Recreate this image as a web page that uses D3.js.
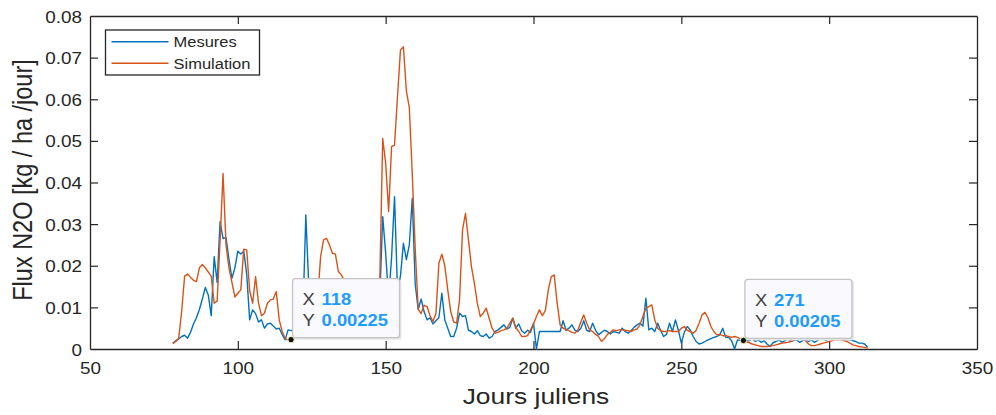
<!DOCTYPE html>
<html>
<head>
  <meta charset="utf-8">
  <script src="https://cdn.jsdelivr.net/npm/d3@7"></script>
  <style>
    body { margin: 0; background: #fff; }
    svg { font-family: "Liberation Sans", Arial, sans-serif; }
  </style>
</head>
<body>
<script>
  // ---- data ----
  var firstDay = 78;

  // Mesures, one value per day from day 78 to day 313
  var mesures = [
    0.0014, 0.002, 0.0024, 0.003, 0.0033, 0.0026, 0.004, 0.006, 0.0075, 0.0095,      // 78
    0.012, 0.0148, 0.013, 0.008, 0.0222, 0.016, 0.0306, 0.0265, 0.0268, 0.0215,      // 88
    0.017, 0.0195, 0.0235, 0.0228, 0.0235, 0.018, 0.007, 0.0094, 0.0085, 0.0065,     // 98
    0.007, 0.005, 0.006, 0.0062, 0.0055, 0.0048, 0.005, 0.0035, 0.0022, 0.0046,      // 108
    0.0044, 0.0046, 0.0045, 0.005, 0.008, 0.0322, 0.015, 0.006, 0.005, 0.007,        // 118
    0.006, 0.004, 0.005, 0.006, 0.005, 0.007, 0.006, 0.005, 0.004, 0.006,            // 128
    0.005, 0.004, 0.005, 0.006, 0.005, 0.004, 0.006, 0.007, 0.008, 0.01,             // 138
    0.012, 0.0318, 0.023, 0.012, 0.022, 0.0366, 0.014, 0.0175, 0.0254, 0.0215,       // 148
    0.025, 0.0362, 0.0155, 0.0095, 0.012, 0.009, 0.007, 0.0075, 0.006, 0.0068,       // 158
    0.0075, 0.0134, 0.007, 0.005, 0.003, 0.003, 0.005, 0.0086, 0.0078, 0.008,        // 168
    0.0045, 0.0042, 0.0036, 0.0044, 0.0032, 0.003, 0.0036, 0.0026, 0.003, 0.0042,    // 178
    0.0046, 0.0052, 0.0058, 0.0048, 0.0052, 0.0074, 0.005, 0.006, 0.0044, 0.0038,    // 188
    0.0045, 0.004, 0.0062, 0, 0.0042, 0.0042, 0.0042, 0.0042, 0.0042, 0.0042,        // 198
    0.0042, 0.0042, 0.0068, 0.0045, 0.005, 0.0058, 0.0045, 0.0042, 0.005, 0.0068,    // 208
    0.0045, 0.0042, 0.0062, 0.0045, 0.0034, 0.004, 0.0045, 0.0042, 0.0036, 0.0042,   // 218
    0.004, 0.0038, 0.005, 0.0042, 0.0038, 0.0044, 0.0052, 0.0058, 0.0062, 0.0055,    // 228
    0.0122, 0.0046, 0.005, 0.0042, 0.0062, 0.0045, 0.003, 0.0035, 0.0062, 0.0042,    // 238
    0.007, 0.0045, 0.0014, 0.004, 0.0054, 0.0046, 0.003, 0.0018, 0.0012, 0.0014,     // 248
    0.0018, 0.0022, 0.0025, 0.0028, 0.003, 0.0034, 0.005, 0.0028, 0.0028, 0.002,     // 258
    0, 0.0022, 0.002, 0.0025, 0.0022, 0.002, 0.0024, 0.0018, 0.0022, 0.0016,         // 268
    0.002, 0.0012, 0.0006, 0.0015, 0.0018, 0.0022, 0.0016, 0.002, 0.0026, 0.0018,    // 278
    0.002, 0.0022, 0.0016, 0.002, 0.0024, 0.0018, 0.0022, 0.0016, 0.002, 0.0026,     // 288
    0.0024, 0.002, 0.0042, 0.003, 0.0025, 0.0025, 0.0026, 0.0024, 0.0022, 0.0022,    // 298
    0.002, 0.0018, 0.0014, 0.0014, 0.0012, 0.0004                                    // 308
  ];

  // Simulation, same days
  var simulation = [
    0.0013, 0.0018, 0.0026, 0.009, 0.0175, 0.018, 0.0172, 0.0165, 0.0162, 0.0195,   // 78
    0.0203, 0.0195, 0.0185, 0.0175, 0.011, 0.0115, 0.026, 0.0422, 0.025, 0.0195,     // 88
    0.016, 0.0125, 0.0134, 0.0142, 0.024, 0.0238, 0.014, 0.011, 0.0174, 0.011,       // 98
    0.008, 0.0086, 0.011, 0.0118, 0.012, 0.0138, 0.007, 0.0042, 0.0025, 0.0022,      // 108
    0.00225, 0.003, 0.0035, 0.005, 0.007, 0.008, 0.007, 0.006, 0.008, 0.012,         // 118
    0.0222, 0.0262, 0.0266, 0.025, 0.023, 0.0228, 0.0186, 0.0178, 0.0165, 0.016,     // 128
    0.014, 0.013, 0.012, 0.011, 0.0105, 0.01, 0.0095, 0.009, 0.0095, 0.012,          // 138
    0.016, 0.0506, 0.0446, 0.033, 0.0486, 0.049, 0.0606, 0.0718, 0.0726, 0.062,      // 148
    0.058, 0.042, 0.024, 0.0095, 0.0085, 0.0105, 0.0102, 0.008, 0.0066, 0.0085,      // 158
    0.0206, 0.0228, 0.02, 0.0142, 0.009, 0.0065, 0.0062, 0.012, 0.0286, 0.0326,      // 168
    0.0262, 0.0198, 0.0158, 0.011, 0.0078, 0.0086, 0.0098, 0.0074, 0.005, 0.0038,    // 178
    0.004, 0.0044, 0.0046, 0.005, 0.0062, 0.0074, 0.0052, 0.0042, 0.003, 0.003,      // 188
    0.0032, 0.0046, 0.006, 0.0078, 0.0094, 0.008, 0.0092, 0.0142, 0.0174, 0.0178,    // 198
    0.011, 0.0058, 0.005, 0.0046, 0.0044, 0.004, 0.0038, 0.0045, 0.0065, 0.0082,     // 208
    0.0062, 0.0046, 0.0042, 0.0035, 0.003, 0.0018, 0.0025, 0.0035, 0.004, 0.0046,    // 218
    0.0044, 0.0046, 0.0046, 0.0045, 0.0044, 0.0042, 0.0046, 0.0048, 0.0058, 0.0078,  // 228
    0.0098, 0.0102, 0.0106, 0.007, 0.005, 0.0044, 0.0042, 0.0042, 0.0044, 0.0042,    // 238
    0.0042, 0.0042, 0.005, 0.0054, 0.0045, 0.0042, 0.0038, 0.0045, 0.0062, 0.0082,   // 248
    0.0088, 0.0075, 0.0054, 0.0042, 0.0034, 0.0035, 0.0032, 0.0032, 0.003, 0.0028,   // 258
    0.003, 0.0028, 0.0024, 0.00205, 0.0018, 0.0015, 0.0012, 0.001, 0.0008, 0.0006,   // 268
    0.0006, 0.0006, 0.0007, 0.0008, 0.001, 0.0012, 0.0014, 0.0015, 0.0016, 0.0018,   // 278
    0.0022, 0.0024, 0.0026, 0.0026, 0.002, 0.0012, 0.0008, 0.0008, 0.001, 0.0012,    // 288
    0.0014, 0.0016, 0.0018, 0.002, 0.0022, 0.0022, 0.0022, 0.002, 0.0018, 0.0014,    // 298
    0.001, 0.0008, 0.0006, 0.0005, 0.0004, 0.0002                                    // 308
  ];

  var seriesNames = ["Mesures", "Simulation"];
  var seriesColors = ["#0072BD", "#D95319"];

  var xTicks = [50, 100, 150, 200, 250, 300, 350];
  var xTickLabels = ["50", "100", "150", "200", "250", "300", "350"];
  var yTicks = [0, 0.01, 0.02, 0.03, 0.04, 0.05, 0.06, 0.07, 0.08];
  var yTickLabels = ["0", "0.01", "0.02", "0.03", "0.04", "0.05", "0.06", "0.07", "0.08"];

  // data tips shown on the figure
  var tipX = [118, 271];
  var tipY = [0.00225, 0.00205];

  // ---- layout ----
  var width = 996, height = 415;
  var plotL = 90, plotR = 977, plotT = 16, plotB = 349;
  var ink = "#262626";

  var svg = d3.select("body").append("svg")
      .attr("width", width)
      .attr("height", height);

  var x = d3.scaleLinear().domain([50, 350]).range([plotL, plotR]);
  var y = d3.scaleLinear().domain([0, 0.08]).range([plotB, plotT]);

  function series(values) {
    return values.map(function (v, i) { return { day: firstDay + i, v: v }; });
  }
  var allSeries = [series(mesures), series(simulation)];

  /*
    Axes: MATLAB style box, ticks inside on all four sides
  */
  var gx = svg.append("g")
      .attr("transform", "translate(0," + plotB + ")")
      .call(d3.axisBottom(x).tickValues(xTicks).tickSize(-8).tickSizeOuter(0)
            .tickPadding(14).tickFormat(function (d, i) { return xTickLabels[i]; }));
  var gxt = svg.append("g")
      .attr("transform", "translate(0," + plotT + ")")
      .call(d3.axisTop(x).tickValues(xTicks).tickSize(-8).tickSizeOuter(0).tickFormat(""));
  var gy = svg.append("g")
      .attr("transform", "translate(" + plotL + ",0)")
      .call(d3.axisLeft(y).tickValues(yTicks).tickSize(-8).tickSizeOuter(0)
            .tickFormat(function (d, i) { return yTickLabels[i]; }));
  var gyr = svg.append("g")
      .attr("transform", "translate(" + plotR + ",0)")
      .call(d3.axisRight(y).tickValues(yTicks).tickSize(-8).tickSizeOuter(0).tickFormat(""));

  [gx, gxt, gy, gyr].forEach(function (g) {
    g.attr("font-family", null).attr("font-size", null);
    g.selectAll("path.domain").attr("stroke", ink).attr("stroke-width", 1.3);
    g.selectAll(".tick line").attr("stroke", ink).attr("stroke-width", 1.2);
  });
  // edge ticks sit on the frame, hide them
  gx.selectAll(".tick line").filter(function (d) { return d === 50 || d === 350; }).remove();
  gxt.selectAll(".tick line").filter(function (d) { return d === 50 || d === 350; }).remove();
  gy.selectAll(".tick line").filter(function (d) { return d === 0 || d === 0.08; }).remove();
  gyr.selectAll(".tick line").filter(function (d) { return d === 0 || d === 0.08; }).remove();

  gx.selectAll("text")
      .attr("fill", ink)
      .style("font-size", "16px")
      .attr("transform", "scale(1.18,1)");
  gy.selectAll("text")
      .attr("fill", ink)
      .style("font-size", "16px")
      .attr("x", -8 / 1.18)
      .attr("dy", "0.38em")
      .attr("transform", "scale(1.18,1)");

  /*
    Axis titles
  */
  svg.append("text")
      .attr("transform", "translate(536,404) scale(1.2,1)")
      .attr("text-anchor", "middle")
      .attr("fill", ink)
      .style("font-size", "22px")
      .text("Jours juliens");

  svg.append("text")
      .attr("transform", "translate(31.5,180) scale(1.15,1) rotate(-90)")
      .attr("text-anchor", "middle")
      .attr("fill", ink)
      .style("font-size", "23.5px")
      .text("Flux N2O [kg / ha /jour]");

  /*
    The two lines
  */
  var line = d3.line()
      .x(function (d) { return x(d.day); })
      .y(function (d) { return y(d.v); });

  svg.append("g").selectAll("path.serie")
    .data(allSeries)
    .enter()
    .append("path")
      .attr("class", "serie")
      .attr("fill", "none")
      .attr("stroke", function (d, i) { return seriesColors[i]; })
      .attr("stroke-width", 1.4)
      .attr("stroke-linejoin", "round")
      .attr("d", line);

  /*
    Legend
  */
  var leg = svg.append("g").attr("transform", "translate(105.5,30)");
  leg.append("rect")
      .attr("width", 154)
      .attr("height", 45)
      .attr("fill", "#fff")
      .attr("stroke", ink)
      .attr("stroke-width", 1.3);
  seriesNames.forEach(function (name, i) {
    var ly = 11.7 + i * 21.6;
    leg.append("line")
        .attr("x1", 6).attr("x2", 63)
        .attr("y1", ly).attr("y2", ly)
        .attr("stroke", seriesColors[i])
        .attr("stroke-width", 1.4);
    leg.append("text")
        .attr("transform", "translate(68," + (ly + 5.5) + ") scale(1.1,1)")
        .attr("fill", ink)
        .style("font-size", "15px")
        .text(name);
  });

  /*
    Data tips
  */
  tipX.forEach(function (tx, i) {
    var px = x(tx), py = y(tipY[i]);
    var tip = svg.append("g");
    tip.append("rect")
        .attr("x", px + 2.5).attr("y", py - 60)
        .attr("width", 108).attr("height", 60)
        .attr("rx", 3)
        .attr("fill", "#e6e6e6");
    tip.append("rect")
        .attr("x", px + 1.5).attr("y", py - 61)
        .attr("width", 107).attr("height", 59)
        .attr("rx", 3)
        .attr("fill", "#f9f9fe")
        .attr("stroke", "#c4c4c4")
        .attr("stroke-width", 1.3);
    [["X", String(tx), 34.5], ["Y", String(tipY[i]), 13.5]].forEach(function (row) {
      tip.append("text")
          .attr("transform", "translate(" + (px + 11.5) + "," + (py - row[2]) + ") scale(1.15,1)")
          .attr("fill", "#404040")
          .style("font-size", "16px")
          .text(row[0]);
      tip.append("text")
          .attr("transform", "translate(" + (px + 30.5) + "," + (py - row[2]) + ") scale(1.15,1)")
          .attr("fill", "#1e9bff")
          .style("font-size", "16px")
          .style("font-weight", "bold")
          .text(row[1]);
    });
    tip.append("circle")
        .attr("cx", px).attr("cy", py)
        .attr("r", 3.2)
        .attr("fill", "#111")
        .attr("stroke", "#fff7c8")
        .attr("stroke-width", 1);
  });
</script>
</body>
</html>
